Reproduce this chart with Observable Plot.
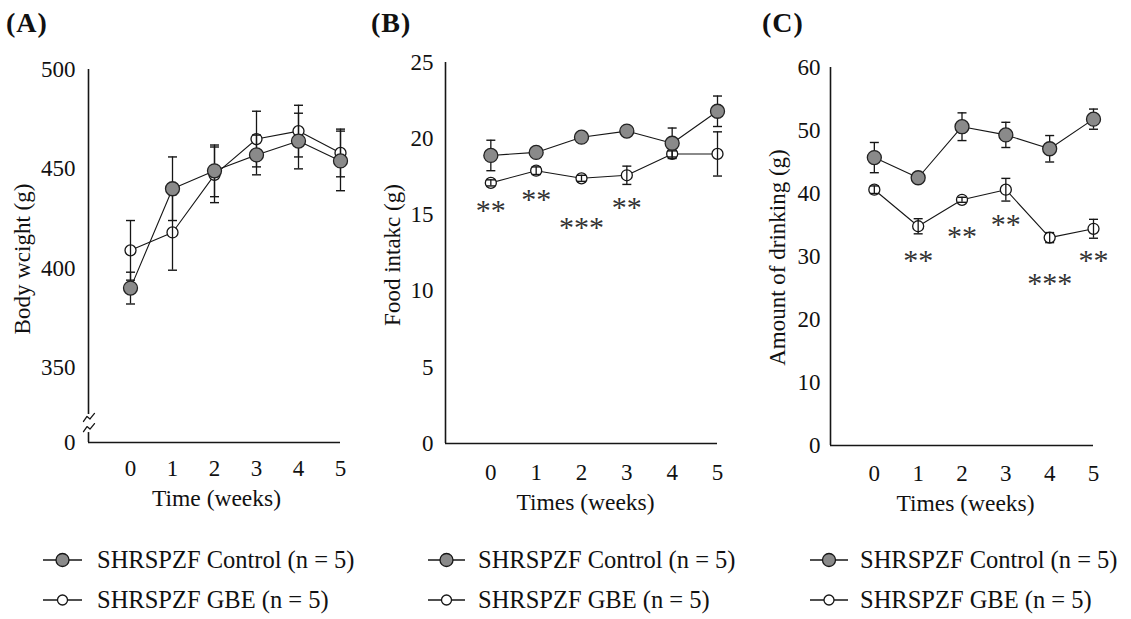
<!DOCTYPE html>
<html>
<head>
<meta charset="utf-8">
<script src="https://cdn.jsdelivr.net/npm/d3@7"></script>
<script src="https://cdn.jsdelivr.net/npm/@observablehq/plot@0.6"></script>
<style>
  html, body { margin: 0; padding: 0; background: #fff; }
  body { width: 1131px; height: 619px; position: relative; overflow: hidden;
         font-family: "Liberation Serif", "Times New Roman", serif; color: #111; }
  .panel { position: absolute; top: 0; }
  .plabel { position: absolute; font-weight: bold; font-size: 28px; line-height: 1; letter-spacing: 1px; }
  .leg { position: absolute; display: flex; align-items: center; font-size: 24.5px; line-height: 1; white-space: nowrap; color: #111; }
  .leg svg { display: block; }
</style>
</head>
<body>
<div class="plabel" style="left:6px;top:9px">(A)</div>
<div class="plabel" style="left:371px;top:9px">(B)</div>
<div class="plabel" style="left:762px;top:9px">(C)</div>
<div id="A" class="panel" style="left:0px"></div>
<div id="B" class="panel" style="left:370px"></div>
<div id="C" class="panel" style="left:750px"></div>
<div id="legend"></div>
<script>
// ---------- data ----------
const weeks = [0, 1, 2, 3, 4, 5];
const seriesNames = ["SHRSPZF Control (n = 5)", "SHRSPZF GBE (n = 5)"];

// (A) Body weight (g)
const bwControl    = [390, 440, 449, 457, 464, 454];
const bwControlErr = [8, 16, 13, 10, 14, 15];
const bwGBE        = [409, 418, 447, 465, 469, 458];
const bwGBEErr     = [15, 19, 14, 14, 13, 12];
const bwTicks      = [312.3, 350, 400, 450, 500];

// (B) Food intake (g)
const fiControl    = [18.9, 19.1, 20.1, 20.5, 19.7, 21.8];
const fiControlErr = [1.0, 0.2, 0.25, 0.25, 1.0, 1.0];
const fiGBE        = [17.1, 17.9, 17.4, 17.6, 19.0, 19.0];
const fiGBEErr     = [0.2, 0.25, 0.2, 0.6, 0.2, 1.45];
const fiTicks      = [0, 5, 10, 15, 20, 25];
const fiSigWeeks   = [0, 1, 2, 3];
const fiSigY       = [15.7, 16.4, 14.6, 15.9];
const fiSigLabels  = ["**", "**", "***", "**"];

// (C) Amount of drinking (g)
const dwControl    = [45.7, 42.5, 50.6, 49.3, 47.1, 51.8];
const dwControlErr = [2.4, 0.5, 2.2, 2.0, 2.1, 1.6];
const dwGBE        = [40.6, 34.8, 39.0, 40.6, 33.0, 34.4];
const dwGBEErr     = [0.6, 1.2, 0.4, 1.8, 0.8, 1.5];
const dwTicks      = [0, 10, 20, 30, 40, 50, 60];
const dwSigWeeks   = [1, 2, 3, 4, 5];
const dwSigY       = [30.3, 34.1, 36.0, 26.7, 30.4];
const dwSigLabels  = ["**", "**", "**", "***", "**"];

// ---------- helpers ----------
const ink = "#161616";
const capSymbol = { draw(ctx, size) { const r = Math.sqrt(size / Math.PI); ctx.moveTo(-r, 0); ctx.lineTo(r, 0); } };

function makeRows(mean, err, group) {
  return weeks.map((w, i) => ({ week: w, group, mean: mean[i], lo: mean[i] - err[i], hi: mean[i] + err[i] }));
}
function makeSig(ws, ys, labels) {
  return ws.map((w, i) => ({ week: w, y: ys[i], label: labels[i] }));
}

function drawPanel(cfg) {
  const ctrl = makeRows(cfg.control, cfg.controlErr, "Control");
  const gbe = makeRows(cfg.gbe, cfg.gbeErr, "GBE");
  const all = ctrl.concat(gbe);
  const marks = [
    Plot.ruleX(cfg.axisSegments, { x: () => -1, y1: "y1", y2: "y2", stroke: ink, strokeWidth: 1.6 }),
    Plot.ruleY([cfg.yDomain[0]], { x1: () => -1, x2: () => 5, stroke: ink, strokeWidth: 1.6 }),
    Plot.line(all, { x: "week", y: "mean", z: "group", stroke: ink, strokeWidth: 1.1 }),
    Plot.dot(gbe, { x: "week", y: "mean", r: 5.5, fill: "white", stroke: ink, strokeWidth: 1.3 }),
    Plot.ruleX(all, { x: "week", y1: "lo", y2: "hi", stroke: ink, strokeWidth: 1.3 }),
    Plot.dot(all, { x: "week", y: "hi", symbol: capSymbol, r: 4.5, fill: "none", stroke: ink, strokeWidth: 1.4 }),
    Plot.dot(all, { x: "week", y: "lo", symbol: capSymbol, r: 4.5, fill: "none", stroke: ink, strokeWidth: 1.4 }),
    Plot.dot(ctrl, { x: "week", y: "mean", r: 7, fill: "#8a8a8a", stroke: "#222", strokeWidth: 1.3 }),
    Plot.axisX({ ticks: weeks, tickSize: 0, tickPadding: cfg.padX, tickFormat: d => String(d), fontSize: 23, label: null }),
    Plot.axisY({ ticks: cfg.yTicks, tickSize: 0, tickPadding: cfg.padY, tickFormat: cfg.yFormat, fontSize: 23, label: null }),
    Plot.text([cfg.xLabel], { text: d => d, frameAnchor: "bottom", dx: cfg.xlabDx, dy: cfg.xlabDy, fontSize: 23.5, lineAnchor: "middle" }),
    Plot.text([cfg.yLabel], { text: d => d, frameAnchor: "left", rotate: -90, dx: cfg.ylabDx, dy: cfg.ylabDy, fontSize: 23, textAnchor: "middle", lineAnchor: "middle" })
  ];
  if (cfg.sig) {
    marks.push(Plot.text(cfg.sig, { x: "week", y: "y", text: "label", fontSize: 30, fill: "#333", dy: 6 }));
  }
  if (cfg.breakPts) {
    marks.push(Plot.line(cfg.breakPts, { x: "x", y: "y", z: "id", stroke: ink, strokeWidth: 1.3 }));
  }
  const chart = Plot.plot({
    width: cfg.width, height: 520,
    marginLeft: cfg.mL, marginRight: cfg.mR, marginTop: cfg.mT, marginBottom: cfg.mB,
    x: { domain: [-1, 5] },
    y: { domain: cfg.yDomain },
    style: { fontFamily: "Liberation Serif, Times New Roman, serif", fontSize: "23px", color: "#111", background: "transparent", overflow: "visible" },
    marks
  });
  document.getElementById(cfg.id).appendChild(chart);
}

// axis break (panel A) – small zigzags drawn in data space around the broken axis
const breakCentres = [324.9, 319.8];
const zigPx = [[-5, 4], [-1.5, -1], [1.5, 1.5], [6, -4]];
const pxPerX = 42, pxPerY = 1.987;
const breakPts = [];
breakCentres.forEach((c, k) => zigPx.forEach(([px, py]) => breakPts.push({ id: k, x: -1 + px / pxPerX, y: c - py / pxPerY })));

drawPanel({
  id: "A", width: 370, mL: 88, mR: 30, mT: 69, mB: 78,
  yDomain: [312.3, 500], yTicks: bwTicks, yFormat: d => (d < 340 ? "0" : String(d)),
  axisSegments: [{ y1: 326.4, y2: 500 }, { y1: 312.3, y2: 317.3 }],
  control: bwControl, controlErr: bwControlErr, gbe: bwGBE, gbeErr: bwGBEErr,
  padX: 17, padY: 13,
  xLabel: "Time (weeks)", xlabDx: 2, xlabDy: 56,
  yLabel: "Body wcight (g)", ylabDx: -66, ylabDy: 3,
  breakPts
});
drawPanel({
  id: "B", width: 370, mL: 75, mR: 23, mT: 62, mB: 77,
  yDomain: [0, 25], yTicks: fiTicks, yFormat: d => String(d),
  axisSegments: [{ y1: 0, y2: 25 }],
  control: fiControl, controlErr: fiControlErr, gbe: fiGBE, gbeErr: fiGBEErr,
  padX: 20, padY: 12,
  xLabel: "Times (weeks)", xlabDx: 4, xlabDy: 59,
  yLabel: "Food intakc (g)", ylabDx: -53, ylabDy: 2,
  sig: makeSig(fiSigWeeks, fiSigY, fiSigLabels)
});
drawPanel({
  id: "C", width: 381, mL: 80, mR: 38, mT: 67, mB: 75,
  yDomain: [0, 60], yTicks: dwTicks, yFormat: d => String(d),
  axisSegments: [{ y1: 0, y2: 60 }],
  control: dwControl, controlErr: dwControlErr, gbe: dwGBE, gbeErr: dwGBEErr,
  padX: 19, padY: 10,
  xLabel: "Times (weeks)", xlabDx: 3.5, xlabDy: 58,
  yLabel: "Amount of drinking (g)", ylabDx: -53, ylabDy: 1,
  sig: makeSig(dwSigWeeks, dwSigY, dwSigLabels)
});

// ---------- legends ----------
const legendCols = [
  { left: 43, sym: 39, gap: 15 },
  { left: 428, sym: 37, gap: 13 },
  { left: 810, sym: 38, gap: 12 }
];
const legendRowsTop = [548, 588];
const legendHost = document.getElementById("legend");
legendCols.forEach(col => {
  seriesNames.forEach((name, k) => {
    const div = document.createElement("div");
    div.className = "leg";
    div.style.left = col.left + "px";
    div.style.top = legendRowsTop[k] + "px";
    const filled = k === 0;
    const r = filled ? 6.5 : 5;
    div.innerHTML =
      `<svg width="${col.sym}" height="24"><line x1="0" y1="12" x2="${col.sym}" y2="12" stroke="${ink}" stroke-width="1.5"/>` +
      `<circle cx="${col.sym / 2}" cy="12" r="${r}" fill="${filled ? "#8a8a8a" : "white"}" stroke="${ink}" stroke-width="1.3"/></svg>` +
      `<span style="margin-left:${col.gap}px">${name}</span>`;
    legendHost.appendChild(div);
  });
});
</script>
</body>
</html>
